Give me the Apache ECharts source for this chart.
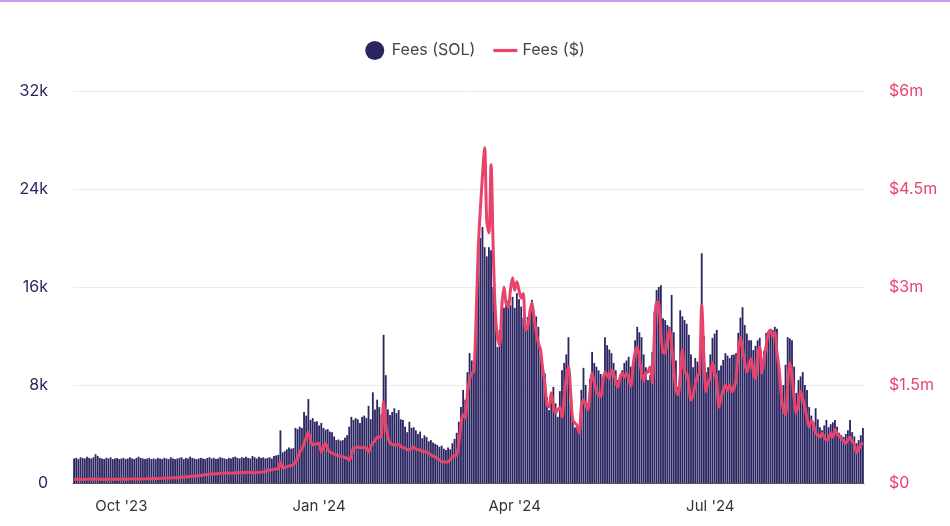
<!DOCTYPE html>
<html>
<head>
<meta charset="utf-8">
<script src="https://cdn.jsdelivr.net/npm/echarts@6/dist/echarts.min.js"></script>
<style>
html,body{margin:0;padding:0;background:#fff;}
#chart{width:950px;height:526px;}
</style>
</head>
<body>
<div id="chart"></div>
<script>
// Daily categories: 2023-09-09 .. 2024-09-10
const startDate = '2023-09-09';
const dayCount = 368;
const tickDates = ['2023-10-01', '2024-01-01', '2024-04-01', '2024-07-01'];
const tickLabels = ["Oct '23", "Jan '24", "Apr '24", "Jul '24"];
const leftTicks = ['0', '8k', '16k', '24k', '32k'];
const rightTicks = ['$0', '$1.5m', '$3m', '$4.5m', '$6m'];

// Fees in SOL per day
const feesSOL = [
2000,2050,1950,2100,2050,2000,2150,2050,2000,2100,
2350,2200,2050,2000,1950,2050,2000,2100,1950,2000,
2050,1950,2000,2050,1950,2000,2100,2000,1950,2050,
2150,2050,2000,1950,2000,2050,1950,2000,1950,2050,
2000,1950,2050,2000,1950,2100,2000,1950,2000,2050,
2100,1950,2050,2000,2150,2050,2000,1950,2000,2050,
2000,1950,2050,2100,2000,2050,1950,2000,2100,2050,
2000,1950,2050,2000,2100,2150,2050,2000,2100,2050,
2150,2050,2000,2200,2100,2000,2150,2050,2100,2000,
2050,2100,2000,2200,2250,2300,4300,2500,2600,2750,
2900,2800,2850,4500,4400,4600,4500,5800,5500,6850,
5150,5300,5000,5050,4700,4900,4500,4350,4400,4200,
4150,3800,3500,3550,3450,3500,3700,3900,4600,5400,
5150,5300,5200,4900,5400,5500,5300,6300,5200,7400,
6000,6800,6200,5600,12100,8800,6000,5550,5800,6100,
5700,5950,5200,5150,4600,4150,5000,4500,4550,4300,
4000,4200,3650,3900,3750,3400,3500,3300,3200,3100,
2950,3050,2800,2700,2900,2750,3250,3600,4100,5000,
6200,7600,6800,9050,10600,10000,9000,12500,17100,20000,
20900,19250,18500,19250,19000,16000,14350,11100,12500,14900,
14300,14600,14900,14500,15200,14300,15500,15000,14400,13500,
12500,13550,14200,14950,13300,13600,12750,10450,9500,8950,
7000,5950,7400,7850,6500,5400,7500,9200,9800,10500,
11900,6500,5200,4550,4600,4550,7600,9400,8000,6500,
8500,10700,9800,9500,9200,8900,8650,11900,11250,10900,
10600,9800,9200,8400,8800,9200,9800,10000,10300,9500,
9000,11650,12750,12300,11900,10500,9450,8400,8800,10700,
14000,15750,16000,16150,13450,13300,12900,12750,15350,12300,
10000,7850,14100,13600,13300,13000,12100,10500,9450,10200,
9900,9600,18750,12000,9050,9450,10500,11850,12200,12500,
9200,9600,10050,10600,10400,10200,10450,10500,10600,12250,
13500,14350,12900,12200,11650,11650,10850,11200,11650,11850,
9200,10800,12250,12300,12400,12500,12750,12600,9200,7350,
8000,9650,11900,11800,11650,9500,7350,8400,8700,9050,
8000,7600,6200,5500,4900,6100,5200,4550,4300,4700,
5150,4550,4800,4950,5150,4600,4100,3900,3750,4000,
4300,5150,4150,3800,3250,3500,3900,4500
];

// Fees in USD (thousands) per day
const feesUSDk = [
55,56,55,57,56,55,57,56,58,57,
60,59,57,56,55,57,56,58,57,58,
58,57,59,60,58,59,61,60,59,60,
62,61,63,62,64,65,66,68,67,70,
72,71,74,75,76,78,80,79,82,85,
88,90,92,95,100,105,108,110,112,115,
120,125,130,135,140,138,142,145,150,148,
152,155,150,148,153,158,155,160,162,158,
160,165,162,155,158,165,160,163,170,175,
200,195,205,210,215,220,320,230,240,250,
260,270,275,330,380,475,520,600,700,780,
650,580,590,600,610,475,540,610,520,475,
460,440,430,420,410,400,390,380,350,420,
535,540,550,545,540,550,520,475,560,610,
650,700,700,720,1240,900,700,610,590,580,
580,590,560,540,535,510,505,530,550,520,
510,505,490,480,475,450,430,410,400,380,
350,330,320,320,325,360,400,420,430,610,
900,1050,1000,1380,1580,1680,1700,2500,3570,4180,
4700,5130,4000,3830,4870,3570,2600,2230,2110,2700,
3000,2750,2690,2950,3140,2950,3080,2950,2830,2900,
2340,2380,2600,2760,2540,2300,2140,2040,1750,1530,
1200,1160,1380,1200,1070,1120,1160,1010,1300,1620,
1780,1400,960,920,880,765,1160,1270,1200,1120,
1400,1680,1550,1400,1350,1320,1550,1700,1650,1600,
1730,1680,1550,1470,1620,1680,1620,1680,1600,1480,
1780,2000,2080,1900,1700,1560,1680,1700,1780,1530,
2300,2770,2750,2300,2000,1990,2200,2340,2100,1750,
1420,1350,1650,2040,1700,1680,1500,1270,1350,1500,
1640,1680,2720,1950,1400,1550,1600,1850,1700,1550,
1160,1300,1420,1500,1420,1500,1400,1450,1600,2000,
2230,2050,1850,1700,1800,1900,1700,1600,1950,2080,
1680,1900,2100,2300,2340,2250,2300,2000,1750,1350,
1120,1050,1500,1840,1650,1300,1070,1200,1400,1300,
1150,1000,860,950,900,765,740,700,760,700,
660,680,760,700,820,760,720,680,640,610,
660,700,640,600,460,510,590,610
];

function pad(n){return n<10?'0'+n:''+n;}
const dates = [];
{
  const d0 = new Date(startDate + 'T00:00:00Z');
  for (let i = 0; i < dayCount; i++) {
    const d = new Date(d0.getTime() + i * 86400000);
    dates.push(d.getUTCFullYear() + '-' + pad(d.getUTCMonth() + 1) + '-' + pad(d.getUTCDate()));
  }
}
const feesUSD = feesUSDk.map(v => v * 1000);

const chart = echarts.init(document.getElementById('chart'), null, {renderer: 'canvas'});
const FONT = 'Inter, "Noto Sans", sans-serif';
chart.setOption({
  backgroundColor: '#ffffff',
  animation: false,
  graphic: [{
    type: 'rect', left: 0, top: 0,
    shape: {width: 950, height: 2},
    style: {fill: '#cf98ea'}
  }],
  legend: {
    top: 36,
    left: 'center',
    itemGap: 18,
    itemWidth: 24,
    itemHeight: 19,
    textStyle: {color: '#444', fontSize: 16, fontFamily: FONT},
    data: [
      {name: 'Fees (SOL)', icon: 'circle', itemStyle: {color: '#2b2562'}},
      {name: 'Fees ($)', icon: 'path://M0,8 L30,8 L30,12 L0,12 Z', itemStyle: {color: '#e8436a'}}
    ]
  },
  grid: {left: 73, right: 86, top: 91, bottom: 43},
  xAxis: {
    type: 'category',
    data: dates,
    boundaryGap: true,
    axisLine: {show: true, lineStyle: {color: '#555', width: 1}},
    axisTick: {show: false},
    axisLabel: {
      color: '#333', fontSize: 15, fontFamily: FONT, margin: 16,
      interval: (idx, val) => tickDates.indexOf(val) >= 0,
      formatter: (val) => {
        const k = tickDates.indexOf(val);
        return k >= 0 ? tickLabels[k] : '';
      }
    },
    splitLine: {show: false}
  },
  yAxis: [{
    type: 'value', min: 0, max: 32000, interval: 8000,
    axisLine: {show: false}, axisTick: {show: false},
    axisLabel: {
      color: '#2b2562', fontSize: 16, fontFamily: FONT, margin: 25,
      formatter: (v) => leftTicks[Math.round(v / 8000)]
    },
    splitLine: {show: true, lineStyle: {color: '#ececec', width: 1}}
  }, {
    type: 'value', min: 0, max: 6000000, interval: 1500000,
    position: 'right',
    axisLine: {show: false}, axisTick: {show: false},
    axisLabel: {
      color: '#e8436a', fontSize: 16, fontFamily: FONT, margin: 25,
      formatter: (v) => rightTicks[Math.round(v / 1500000)]
    },
    splitLine: {show: false}
  }],
  series: [{
    name: 'Fees (SOL)',
    type: 'bar',
    data: feesSOL,
    yAxisIndex: 0,
    barCategoryGap: '15%',
    itemStyle: {color: '#2b2562'}
  }, {
    name: 'Fees ($)',
    type: 'line',
    data: feesUSD,
    yAxisIndex: 1,
    showSymbol: false,
    symbol: 'none',
    smooth: 0.3,
    lineStyle: {color: '#e8436a', width: 3},
    itemStyle: {color: '#e8436a'}
  }]
});
</script>
</body>
</html>
